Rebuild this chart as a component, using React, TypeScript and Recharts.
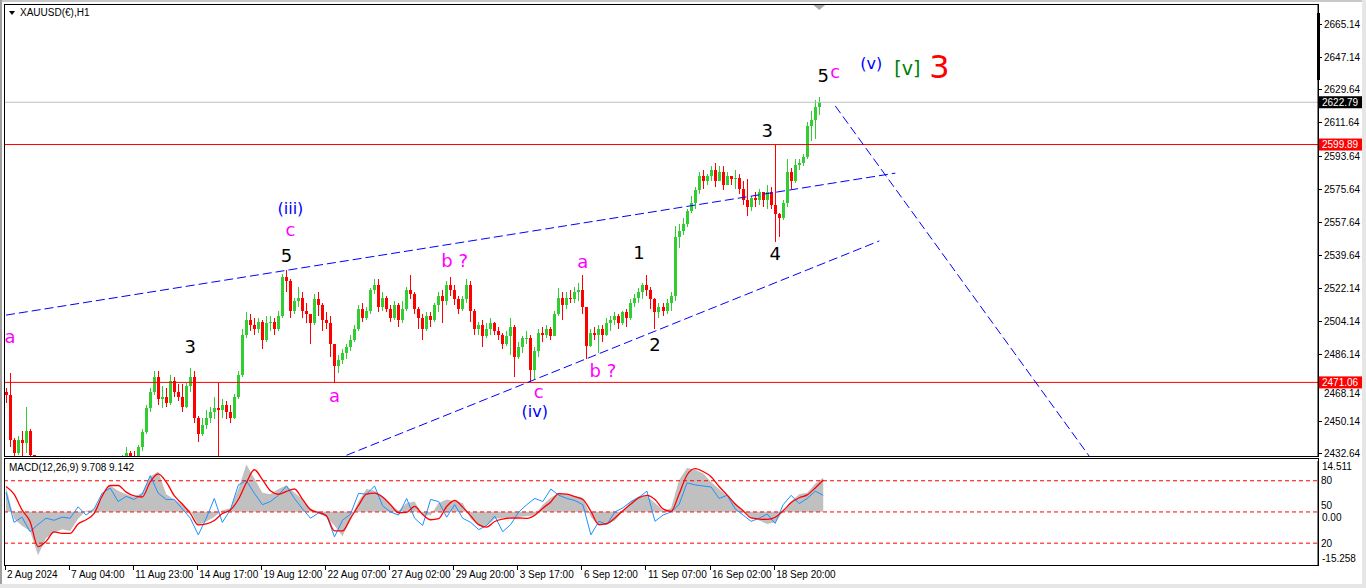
import React from "react";
import {
  ComposedChart,
  Bar,
  Line,
  Area,
  XAxis,
  YAxis,
  ReferenceLine,
  ReferenceDot,
} from "recharts";

// chart is laid out in 4-px slots, like an MT4 H1 chart zoomed out (one slot = 4 hours)
const SLOTS = 328;

const priceTicks = [
  2665.14, 2647.14, 2629.64, 2611.64, 2593.64, 2575.64, 2557.64, 2539.64, 2522.14,
  2504.14, 2486.14, 2468.14, 2450.14, 2432.64,
];

const lastPrice = 2622.79;
const upperLevel = 2599.89;
const lowerLevel = 2471.06;

const firstOpen = 2466;

const closes = [
  2464, 2440, 2433, 2440, 2438, 2445, 2432, 2425, 2418, 2408,
  2395, 2380, 2370, 2392, 2405, 2398, 2390, 2385, 2392, 2400,
  2395, 2385, 2398, 2410, 2420, 2423, 2418, 2425, 2422, 2429,
  2433, 2431, 2430, 2436, 2444, 2457, 2466, 2474, 2462, 2463,
  2460, 2472, 2466, 2463, 2458, 2469, 2474, 2452, 2443, 2448,
  2452, 2455, 2457, 2456, 2459, 2455, 2452, 2463, 2475, 2497,
  2505, 2502, 2500, 2504, 2494, 2503, 2504, 2500, 2507, 2528,
  2526, 2510, 2515, 2517, 2510, 2508, 2503, 2516, 2513, 2505,
  2503, 2492, 2480, 2483, 2487, 2490, 2494, 2500, 2511, 2506,
  2510, 2521, 2524, 2512, 2517, 2511, 2506, 2513, 2505, 2511,
  2521, 2519, 2511, 2506, 2500, 2507, 2505, 2513, 2518, 2515,
  2524, 2521, 2516, 2511, 2516, 2524, 2510, 2500, 2502, 2496,
  2500, 2503, 2499, 2497, 2492, 2496, 2501, 2485, 2490, 2495,
  2495, 2478, 2488, 2498, 2497, 2500, 2496, 2508, 2517, 2513,
  2517, 2516, 2520, 2521, 2512, 2491, 2498, 2497, 2500, 2497,
  2503, 2505, 2507, 2503, 2509, 2506, 2514, 2517, 2520, 2524,
  2521, 2516, 2509, 2512, 2510, 2514, 2518, 2550, 2553, 2557,
  2564, 2568, 2575, 2583, 2580, 2583, 2586, 2580, 2585, 2578,
  2583, 2581, 2582, 2576, 2570, 2566, 2571, 2570, 2574, 2570,
  2574, 2567, 2562, 2560, 2568, 2585, 2580, 2589, 2590, 2593,
  2610, 2613, 2620, 2622.79,
];

const highs = [
  2468, 2476, 2441, 2442, 2445, 2458, 2446, 2432, 2426, 2420,
  2410, 2398, 2385, 2396, 2410, 2408, 2402, 2395, 2398, 2405,
  2404, 2398, 2402, 2416, 2425, 2428, 2427, 2429, 2428, 2431.5,
  2436, 2434, 2434, 2437, 2446, 2459, 2468, 2477, 2477, 2469,
  2468, 2475, 2474, 2470, 2470, 2471, 2479, 2477, 2453, 2452,
  2456, 2458, 2463, 2471, 2462, 2461, 2459, 2465, 2477, 2500,
  2509, 2508, 2506, 2506, 2505, 2507, 2507, 2506, 2510, 2530,
  2532, 2527, 2517, 2523, 2520, 2514, 2508, 2519, 2520, 2514,
  2509, 2507, 2492, 2486, 2489, 2492, 2497, 2502, 2513, 2514,
  2512, 2522, 2527, 2527, 2520, 2518, 2513, 2515, 2514, 2515,
  2523, 2529, 2520, 2512, 2508, 2509, 2509, 2514, 2520, 2521,
  2526, 2528, 2524, 2518, 2518, 2527, 2526, 2511, 2504, 2505,
  2503, 2506, 2504, 2501, 2498, 2499, 2506, 2502, 2493, 2496,
  2499, 2497, 2490, 2500, 2501, 2502, 2501, 2510, 2522, 2520,
  2520, 2521, 2523, 2525, 2529, 2512, 2500, 2501, 2502, 2502,
  2506, 2507, 2509, 2508, 2510, 2511, 2516, 2519, 2522, 2525,
  2529, 2523, 2517, 2514, 2514, 2516, 2520, 2556, 2557, 2560,
  2565, 2572, 2577, 2585, 2586, 2584, 2588, 2590, 2588, 2588,
  2585, 2583, 2586, 2584, 2580, 2581, 2572, 2574, 2576, 2574,
  2578, 2577, 2600, 2563, 2570, 2592, 2587, 2592, 2592, 2595,
  2612, 2618, 2624, 2625.5,
];

const lows = [
  2460, 2436, 2431, 2432, 2431, 2433, 2428, 2415, 2410, 2400,
  2385, 2365, 2362, 2368, 2388, 2392, 2384, 2378, 2382, 2390,
  2390, 2380, 2383, 2396, 2408, 2416, 2412, 2415, 2418, 2420,
  2428, 2428, 2427, 2429, 2434, 2443, 2455, 2464, 2459, 2457,
  2458, 2459, 2463, 2461, 2455, 2457, 2466, 2449, 2439, 2442,
  2446, 2449, 2451, 2431, 2452, 2451, 2449, 2451, 2462, 2474,
  2495, 2499, 2497, 2498, 2489, 2493, 2499, 2497, 2499, 2506,
  2520, 2506, 2508, 2512, 2506, 2503, 2492, 2502, 2507, 2499,
  2500, 2485, 2470.5, 2476, 2481, 2484, 2488, 2493, 2499, 2504,
  2505, 2508, 2519, 2509, 2510, 2509, 2504, 2505, 2501, 2503,
  2510, 2516, 2508, 2500, 2494, 2499, 2501, 2504, 2509, 2503,
  2513, 2518, 2513, 2508, 2510, 2514, 2504, 2497, 2497, 2490,
  2495, 2497, 2497, 2494, 2489, 2491, 2486, 2474, 2484, 2487,
  2492, 2471.5, 2473, 2485, 2493, 2495, 2494, 2496, 2507, 2505,
  2511, 2514, 2514, 2515, 2508, 2484, 2490, 2494, 2487, 2493,
  2496, 2499, 2502, 2500, 2502, 2501, 2505, 2512, 2514, 2516,
  2518, 2511, 2500, 2506, 2507, 2508, 2510, 2515, 2544, 2551,
  2555, 2563, 2565, 2573, 2576, 2578, 2580, 2577, 2580, 2575,
  2578, 2578, 2576, 2573, 2567, 2561, 2564, 2566, 2567, 2566,
  2565, 2565, 2547, 2550, 2559, 2566, 2576, 2579, 2586, 2588,
  2592, 2602, 2603, 2616,
];

const timeLabels = [
  "2 Aug 2024", "7 Aug 04:00", "11 Aug 23:00", "14 Aug 17:00", "19 Aug 12:00",
  "22 Aug 07:00", "27 Aug 02:00", "29 Aug 20:00", "3 Sep 17:00", "6 Sep 12:00",
  "11 Sep 07:00", "16 Sep 02:00", "18 Sep 20:00",
];

// MACD window, one value every second slot
const macdHist = [
  7.2, -2, -4, -5.5, -12.5, -7.5, -6, -5, -5.5, -2,
  0.3, 0.5, 4.5, 7.5, 6, 5, 4.2, 5.5, 10, 11.5,
  5, 3.5, 2, 0.3, -3.8, -2.8, -1.5, 0.4, 1, 6.5,
  13.5, 9.5, 5.4, 5, 6.5, 7.5, 5.5, 3.5, 1, -0.5,
  -1.5, -4, -7, -2, 3, 6.5, 6, 4.5, 2, 0.3,
  2.5, 2.9, -1, -1, 2.5, 3.5, 2.9, 2.5, -2, -4,
  -4, -2, -1.8, -1.5, -1.5, -1.3, -1, 2, 4, 5.4,
  5, 4.5, 4, -1.5, -4, -3.5, -2.5, 0.2, 3, 4.5,
  4.5, 2.5, 0.3, 1, 9, 12.5, 12, 11, 8.5, 6.5,
  4.5, 2.5, 0.5, -1.8, -2.5, -3.5, -3, 0, 3, 5,
  5.4, 8, 9.7,
];

const macdSignal = [
  7.2, 5, 0.5, -2.8, -10, -8.5, -5.8, -6.2, -6.2, -3.5,
  -2.3, -0.5, 4.5, 7.5, 7.5, 5.6, 4.5, 4.2, 8.5, 10.8,
  8.5, 4.6, 2.2, -0.5, -3.8, -3.5, -2.5, -0.5, 0.5, 3.5,
  8.3, 12, 9.2, 6, 5, 5.8, 6.5, 3.6, 0.6, -0.2,
  -1.2, -5.5, -5.5, -1.9, 1.8, 5, 5.3, 4.2, 2, -0.3,
  -0.2, 1.5, -0.8, -2.3, -2, 1.5, 3.2, 1.3, -1.2, -3.7,
  -4.4, -2.8, -2.1, -1.8, -1.8, -1.9, -1, 1, 2.8, 5.2,
  5, 4.3, 3.5, 0.1, -3.7, -3.4, -1.8, 0.3, 2.2, 4,
  4.7, 3.5, 0.8, 0.1, 5, 10.5, 12.3, 11.5, 10, 7.2,
  4.8, 2.2, 0.3, -1.8, -2.1, -2.2, -1.6, 0.3, 2.6, 4,
  4.8, 6.8, 9.1,
];

const oscillator = [
  69, 40, 45, 31, 38, 44, 42, 45, 44, 55,
  47, 53, 68, 73, 60, 65, 62, 67, 85, 68,
  62, 62, 53, 44, 28, 44, 63, 40, 52, 76,
  80, 68, 57, 60, 66, 75, 63, 53, 44, 49,
  47, 26, 42, 48, 68, 67, 75, 56, 50, 47,
  63, 44, 37, 62, 60, 45, 57, 44, 40, 33,
  37, 46, 31, 38, 50, 57, 63, 60, 72, 66,
  63, 61, 57, 28, 41, 38, 50, 54, 60, 64,
  70, 41, 47, 50, 57, 78, 76, 75, 74, 63,
  66, 53, 47, 41, 44, 48, 39, 57, 66, 58,
  63, 70, 66,
];

const oscLevels = [80, 50, 20];
const macdScaleLabels = [14.511, 0, -15.258];

// elliott wave count, placed by slot and price
const waveLabels = [
  { slot: 1, price: 2495.6, text: "a", kind: "sub" },
  { slot: 46, price: 2490.5, text: "3", kind: "minor" },
  { slot: 70, price: 2539.5, text: "5", kind: "minor" },
  { slot: 71, price: 2553.6, text: "c", kind: "sub" },
  { slot: 71, price: 2565.5, text: "(iii)", kind: "inter" },
  { slot: 82, price: 2463.7, text: "a", kind: "sub" },
  { slot: 112, price: 2536.8, text: "b ?", kind: "sub" },
  { slot: 133, price: 2465.8, text: "c", kind: "sub" },
  { slot: 132, price: 2455.5, text: "(iv)", kind: "inter" },
  { slot: 144, price: 2536.3, text: "a", kind: "sub" },
  { slot: 149, price: 2477.2, text: "b ?", kind: "sub" },
  { slot: 158, price: 2541.1, text: "1", kind: "minor" },
  { slot: 162, price: 2491.3, text: "2", kind: "minor" },
  { slot: 190, price: 2607.2, text: "3", kind: "minor" },
  { slot: 192, price: 2540.6, text: "4", kind: "minor" },
  { slot: 204, price: 2637.0, text: "5", kind: "minor" },
  { slot: 207, price: 2639.1, text: "c", kind: "sub" },
  { slot: 216, price: 2643.7, text: "(v)", kind: "inter" },
  { slot: 225, price: 2641.0, text: "[v]", kind: "primary" },
  { slot: 233, price: 2642.1, text: "3", kind: "cycle" },
];

const channelUpper = [
  { x: 0, y: 2507.5 },
  { x: 222, y: 2584.4 },
];
const channelLower = [
  { x: 85, y: 2431.6 },
  { x: 218, y: 2547.7 },
];
const targetLine = [
  { x: 207, y: 2620.8 },
  { x: 271, y: 2429.3 },
];

const waveStyle: Record<string, { color: string; size: number }> = {
  sub: { color: "#FF00FF", size: 18 },
  minor: { color: "#000000", size: 18 },
  inter: { color: "#0000FF", size: 16 },
  primary: { color: "#008000", size: 19 },
  cycle: { color: "#FF0000", size: 32 },
};

const priceTags = [
  { value: lastPrice, bg: "#000000" },
  { value: upperLevel, bg: "#FF0000" },
  { value: lowerLevel, bg: "#FF0000" },
];

const UI_FONT = "'Liberation Sans', Arial, sans-serif";
const WAVE_FONT = "'DejaVu Sans', Verdana, sans-serif";
const GREEN = "#32CD32";
const RED = "#FF0000";

const priceData = Array.from({ length: SLOTS }, (_, i) => {
  if (i >= closes.length) return { i, range: null };
  const open = i === 0 ? firstOpen : closes[i - 1];
  return { i, range: [lows[i], highs[i]], open, close: closes[i] };
});

const macdData = macdHist.map((h, j) => ({
  t: j * 2 + 0.5,
  hist: h,
  sig: macdSignal[j],
  osc: oscillator[j],
}));

const timeTicks = timeLabels.map((_, k) => k * 16 + 0.25);

const Candle = (props: any) => {
  const { x, width, payload } = props;
  let { y, height } = props;
  if (!payload || !payload.range) return null;
  if (height < 0) {
    y += height;
    height = -height;
  }
  const [lo, hi] = payload.range;
  const k = hi === lo ? 0 : height / (hi - lo);
  const yO = y + (hi - payload.open) * k;
  const yC = y + (hi - payload.close) * k;
  const color = payload.close >= payload.open ? GREEN : RED;
  const cx = x + width / 2;
  const top = Math.min(yO, yC);
  const bh = Math.max(1, Math.abs(yC - yO));
  return (
    <g shapeRendering="crispEdges">
      <line x1={cx} x2={cx} y1={y} y2={y + height} stroke={color} strokeWidth={1} />
      <rect x={cx - 1.5} y={top} width={3} height={bh} fill={color} />
    </g>
  );
};

const PriceTick = (props: any) => {
  const { x, y, payload } = props;
  const v = payload.value;
  const tag = priceTags.find((t) => t.value === v);
  if (tag) {
    return (
      <g>
        <rect x={x + 1} y={y - 6} width={43} height={12} fill={tag.bg} />
        <text x={x + 4} y={y} dy="0.35em" fill="#FFFFFF" fontSize={10} fontFamily={UI_FONT}>
          {v.toFixed(2)}
        </text>
      </g>
    );
  }
  // the tick hidden behind the 2471.06 tag is nudged just below it
  const hidden = priceTags.some((t) => Math.abs(t.value - v) < 4);
  const ty = hidden ? y + 6 : y;
  return (
    <g>
      <line x1={x} x2={x + 4} y1={y} y2={y} stroke="#000" shapeRendering="crispEdges" />
      <text x={x + 6} y={ty} dy="0.35em" fill="#000" fontSize={10} fontFamily={UI_FONT}>
        {v.toFixed(2)}
      </text>
    </g>
  );
};

const MacdTick = (props: any) => {
  const { x, y, payload } = props;
  const v = payload.value;
  const shift = v > 1 ? 5 : v < -1 ? -7 : 6;
  return (
    <text x={x + 4} y={y + shift} dy="0.35em" fill="#000" fontSize={10} fontFamily={UI_FONT}>
      {v === 0 ? "0.00" : v.toFixed(3)}
    </text>
  );
};

const TimeTick = (props: any) => {
  const { x, y, index } = props;
  return (
    <g>
      <line x1={x} x2={x} y1={y} y2={y + 5} stroke="#000" shapeRendering="crispEdges" />
      <text x={x + 2} y={y + 13} fill="#000" fontSize={10} fontFamily={UI_FONT} textAnchor="start">
        {timeLabels[index]}
      </text>
    </g>
  );
};

const oscLabel = (value: number) => (p: any) => {
  const vb = p.viewBox || {};
  const shift = value === 50 ? -6 : 0;
  return (
    <text
      x={vb.x + vb.width + 3}
      y={vb.y + shift}
      dy="0.35em"
      fill="#000"
      fontSize={10}
      fontFamily={UI_FONT}
    >
      {value}
    </text>
  );
};

const App = () => (
  <div
    style={{
      position: "absolute",
      left: 0,
      top: 0,
      width: 1366,
      height: 588,
      background: "#FFFFFF",
      overflow: "hidden",
    }}
  >
    <div style={{ position: "absolute", left: 0, top: 0 }}>
      <ComposedChart
        width={1366}
        height={458}
        data={priceData}
        margin={{ top: 4, right: 0, bottom: 2, left: 4 }}
        barCategoryGap={0}
        barGap={0}
      >
        <XAxis dataKey="i" type="category" hide />
        <YAxis
          orientation="right"
          width={48}
          domain={[2431.2, 2676]}
          allowDataOverflow
          ticks={[...priceTicks, ...priceTags.map((t) => t.value)]}
          interval={0}
          tickSize={0}
          tickMargin={0}
          tickLine={false}
          axisLine={{ stroke: "#000" }}
          tick={<PriceTick />}
        />
        <Bar dataKey="range" shape={<Candle />} isAnimationActive={false} />
        <ReferenceLine y={lastPrice} stroke="#C0C0C0" />
        <ReferenceLine y={upperLevel} stroke={RED} />
        <ReferenceLine y={lowerLevel} stroke={RED} />
        <ReferenceLine segment={channelUpper} stroke="#0000FF" strokeDasharray="9 4" ifOverflow="hidden" />
        <ReferenceLine segment={channelLower} stroke="#0000FF" strokeDasharray="9 4" ifOverflow="hidden" />
        <ReferenceLine segment={targetLine} stroke="#0000FF" strokeDasharray="9 4" ifOverflow="hidden" />
        <ReferenceDot
          x={203}
          y={2676}
          r={0}
          ifOverflow="visible"
          shape={(p: any) => (
            <polygon
              points={`${p.cx - 6},${p.cy + 1} ${p.cx + 6},${p.cy + 1} ${p.cx},${p.cy + 6}`}
              fill="#A8A8A8"
            />
          )}
        />
        {waveLabels.map((w, k) => {
          const st = waveStyle[w.kind];
          return (
            <ReferenceDot
              key={k}
              x={w.slot}
              y={w.price}
              r={0}
              ifOverflow="visible"
              shape={(p: any) => (
                <text
                  x={p.cx}
                  y={p.cy}
                  dy={st.size * 0.35}
                  textAnchor="middle"
                  fill={st.color}
                  fontSize={st.size}
                  fontFamily={WAVE_FONT}
                >
                  {w.text}
                </text>
              )}
            />
          );
        })}
      </ComposedChart>
    </div>

    <div style={{ position: "absolute", left: 0, top: 458 }}>
      <ComposedChart
        width={1366}
        height={130}
        data={macdData}
        margin={{ top: 3, right: 0, bottom: 0, left: 4 }}
      >
        <XAxis
          dataKey="t"
          type="number"
          domain={[0, SLOTS]}
          allowDataOverflow
          ticks={timeTicks}
          interval={0}
          height={23}
          tickSize={0}
          tickMargin={0}
          tickLine={false}
          axisLine={false}
          tick={<TimeTick />}
        />
        <YAxis
          yAxisId="m"
          orientation="right"
          width={48}
          domain={[-15.258, 14.511]}
          allowDataOverflow
          ticks={macdScaleLabels}
          interval={0}
          tickSize={0}
          tickMargin={0}
          tickLine={false}
          axisLine={{ stroke: "#000" }}
          tick={<MacdTick />}
        />
        <YAxis yAxisId="s" hide domain={[-1, 99]} />
        <Area
          yAxisId="m"
          dataKey="hist"
          type="linear"
          baseValue={0}
          fill="#C0C0C0"
          fillOpacity={1}
          stroke="none"
          isAnimationActive={false}
        />
        {oscLevels.map((v) => (
          <ReferenceLine
            key={v}
            yAxisId="s"
            y={v}
            stroke={RED}
            strokeDasharray="4 3"
            label={oscLabel(v)}
          />
        ))}
        <Line
          yAxisId="s"
          dataKey="osc"
          type="linear"
          stroke="#1E90FF"
          strokeWidth={1}
          dot={false}
          isAnimationActive={false}
        />
        <Line
          yAxisId="m"
          dataKey="sig"
          type="monotone"
          stroke={RED}
          strokeWidth={1.3}
          dot={false}
          isAnimationActive={false}
        />
      </ComposedChart>
    </div>

    {/* panel frames */}
    <div
      style={{
        position: "absolute",
        left: 4,
        top: 4,
        width: 1315,
        height: 453,
        border: "1px solid #000",
        boxSizing: "border-box",
        pointerEvents: "none",
      }}
    />
    <div
      style={{
        position: "absolute",
        left: 4,
        top: 458,
        width: 1315,
        height: 108,
        border: "1px solid #000",
        boxSizing: "border-box",
        pointerEvents: "none",
      }}
    />
    <div style={{ position: "absolute", left: 1317, top: 13, width: 3, height: 67, background: "#000" }} />

    {/* window edges */}
    <div style={{ position: "absolute", left: 0, top: 0, width: 1366, height: 2, background: "#C8C8C8" }} />
    <div style={{ position: "absolute", left: 0, top: 0, width: 2, height: 588, background: "#A0A0A0" }} />
    <div style={{ position: "absolute", left: 1362, top: 0, width: 4, height: 588, background: "#E6E6E6" }} />
    <div style={{ position: "absolute", left: 0, top: 584, width: 1366, height: 4, background: "#E6E6E6" }} />

    {/* titles */}
    <div
      style={{
        position: "absolute",
        left: 9,
        top: 11,
        width: 0,
        height: 0,
        borderLeft: "3px solid transparent",
        borderRight: "3px solid transparent",
        borderTop: "4px solid #000",
      }}
    />
    <div
      style={{
        position: "absolute",
        left: 20,
        top: 7,
        fontFamily: UI_FONT,
        fontSize: 10,
        lineHeight: "12px",
        color: "#000",
        whiteSpace: "nowrap",
      }}
    >
      XAUUSD(€),H1
    </div>
    <div
      style={{
        position: "absolute",
        left: 9,
        top: 462,
        fontFamily: UI_FONT,
        fontSize: 10,
        lineHeight: "12px",
        color: "#000",
        whiteSpace: "nowrap",
      }}
    >
      MACD(12,26,9) 9.708 9.142
    </div>
  </div>
);

export default App;
